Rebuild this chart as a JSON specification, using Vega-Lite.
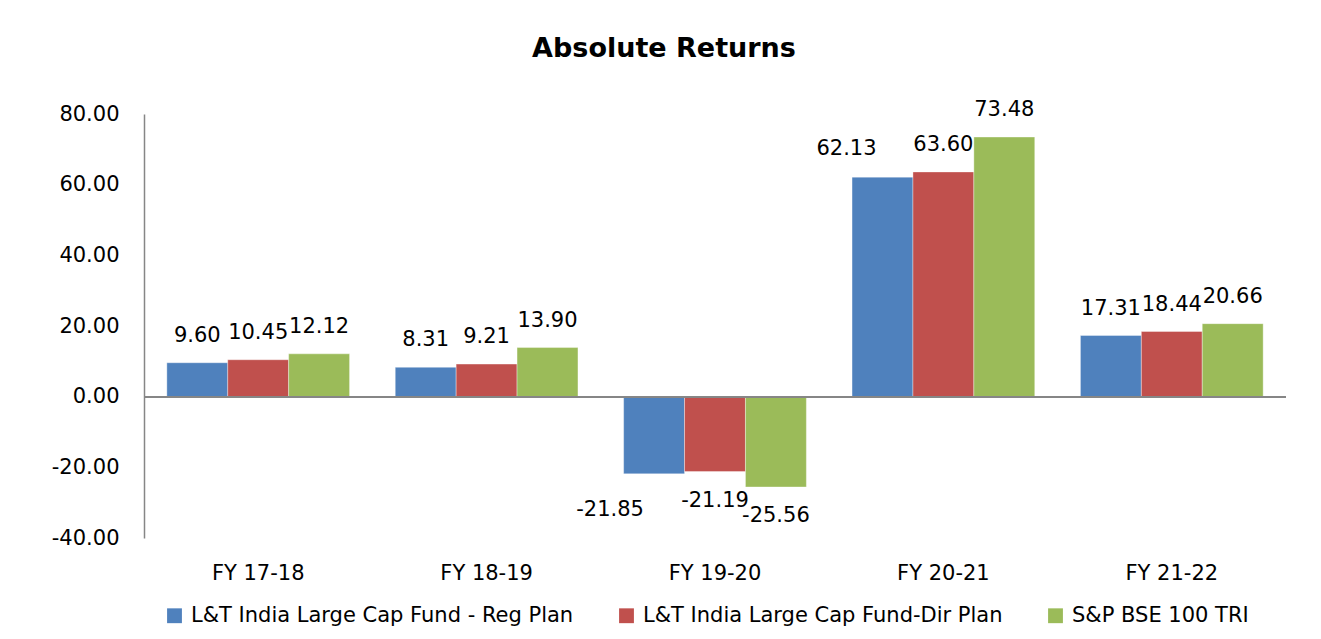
{
  "$schema": "https://vega.github.io/schema/vega-lite/v6.json",
  "autosize": {"type": "none"},
  "width": 1142,
  "height": 424,
  "padding": {"left": 144, "top": 114, "right": 35, "bottom": 101},
  "background": "white",
  "config": {
    "view": {"stroke": null},
    "locale": {
      "number": {"decimal": ".", "thousands": ",", "grouping": [3], "currency": ["$", ""], "minus": "-"}
    }
  },
  "title": {
    "text": "Absolute Returns",
    "anchor": "middle",
    "dx": -51,
    "offset": 36,
    "font": "DejaVu Sans",
    "fontSize": 27,
    "fontWeight": "bold",
    "color": "#000000"
  },
  "data": {
    "values": [
      {"year": "FY 17-18", "series": "L&T India Large Cap Fund - Reg Plan", "value": 9.60},
      {"year": "FY 17-18", "series": "L&T India Large Cap Fund-Dir Plan", "value": 10.45},
      {"year": "FY 17-18", "series": "S&P BSE 100 TRI", "value": 12.12},
      {"year": "FY 18-19", "series": "L&T India Large Cap Fund - Reg Plan", "value": 8.31},
      {"year": "FY 18-19", "series": "L&T India Large Cap Fund-Dir Plan", "value": 9.21},
      {"year": "FY 18-19", "series": "S&P BSE 100 TRI", "value": 13.90},
      {"year": "FY 19-20", "series": "L&T India Large Cap Fund - Reg Plan", "value": -21.85},
      {"year": "FY 19-20", "series": "L&T India Large Cap Fund-Dir Plan", "value": -21.19},
      {"year": "FY 19-20", "series": "S&P BSE 100 TRI", "value": -25.56},
      {"year": "FY 20-21", "series": "L&T India Large Cap Fund - Reg Plan", "value": 62.13},
      {"year": "FY 20-21", "series": "L&T India Large Cap Fund-Dir Plan", "value": 63.60},
      {"year": "FY 20-21", "series": "S&P BSE 100 TRI", "value": 73.48},
      {"year": "FY 21-22", "series": "L&T India Large Cap Fund - Reg Plan", "value": 17.31},
      {"year": "FY 21-22", "series": "L&T India Large Cap Fund-Dir Plan", "value": 18.44},
      {"year": "FY 21-22", "series": "S&P BSE 100 TRI", "value": 20.66}
    ]
  },
  "encoding": {
    "x": {
      "field": "year",
      "type": "nominal",
      "sort": null,
      "scale": {"paddingInner": 0.2, "paddingOuter": 0.1},
      "axis": {
        "title": null,
        "orient": "bottom",
        "domain": false,
        "ticks": false,
        "labelAngle": 0,
        "labelPadding": 24,
        "labelFont": "DejaVu Sans",
        "labelFontSize": 21,
        "labelColor": "#000000"
      }
    },
    "xOffset": {
      "field": "series",
      "type": "nominal",
      "sort": null,
      "scale": {"paddingInner": 0, "paddingOuter": 0}
    },
    "y": {
      "field": "value",
      "type": "quantitative",
      "scale": {"domain": [-40, 80], "nice": false, "zero": false},
      "axis": {
        "title": null,
        "values": [-40, -20, 0, 20, 40, 60, 80],
        "format": ".2f",
        "grid": false,
        "ticks": false,
        "domain": true,
        "domainColor": "#868686",
        "domainWidth": 1.5,
        "labelPadding": 25,
        "labelFont": "DejaVu Sans",
        "labelFontSize": 21,
        "labelColor": "#000000"
      }
    }
  },
  "layer": [
    {
      "mark": {"type": "bar", "stroke": "#ffffff", "strokeWidth": 0.6, "strokeOpacity": 0.6},
      "encoding": {
        "color": {
          "field": "series",
          "type": "nominal",
          "sort": null,
          "scale": {
            "domain": ["L&T India Large Cap Fund - Reg Plan", "L&T India Large Cap Fund-Dir Plan", "S&P BSE 100 TRI"],
            "range": ["#4F81BD", "#C0504D", "#9BBB59"]
          },
          "legend": {
            "title": null,
            "orient": "none",
            "direction": "horizontal",
            "legendX": 20,
            "legendY": 491,
            "symbolType": "square",
            "symbolSize": 220,
            "symbolStrokeWidth": 0,
            "symbolOpacity": 1,
            "labelFont": "DejaVu Sans",
            "labelFontSize": 21,
            "labelColor": "#000000",
            "labelLimit": 600,
            "labelOffset": 6,
            "columnPadding": 42
          }
        }
      }
    },
    {
      "mark": {"type": "rule", "color": "#868686", "strokeWidth": 1.5},
      "encoding": {"y": {"datum": 0}, "x": {"value": 0}, "x2": {"value": 1142}, "xOffset": null}
    },
    {
      "transform": [{"filter": "datum.value >= 0 && !(datum.year == 'FY 20-21' && datum.series == 'L&T India Large Cap Fund - Reg Plan')"}],
      "mark": {"type": "text", "baseline": "middle", "align": "center", "dy": -27, "font": "DejaVu Sans", "fontSize": 21, "color": "#000000"},
      "encoding": {"text": {"field": "value", "type": "quantitative", "format": ".2f"}}
    },
    {
      "transform": [{"filter": "datum.year == 'FY 20-21' && datum.series == 'L&T India Large Cap Fund - Reg Plan'"}],
      "mark": {"type": "text", "baseline": "middle", "align": "center", "dx": -36, "dy": -28, "font": "DejaVu Sans", "fontSize": 21, "color": "#000000"},
      "encoding": {"text": {"field": "value", "type": "quantitative", "format": ".2f"}}
    },
    {
      "transform": [{"filter": "datum.value < 0 && datum.series != 'L&T India Large Cap Fund - Reg Plan'"}],
      "mark": {"type": "text", "baseline": "middle", "align": "center", "dy": 29, "font": "DejaVu Sans", "fontSize": 21, "color": "#000000"},
      "encoding": {"text": {"field": "value", "type": "quantitative", "format": ".2f"}}
    },
    {
      "transform": [{"filter": "datum.value < 0 && datum.series == 'L&T India Large Cap Fund - Reg Plan'"}],
      "mark": {"type": "text", "baseline": "middle", "align": "center", "dx": -44, "dy": 36, "font": "DejaVu Sans", "fontSize": 21, "color": "#000000"},
      "encoding": {"text": {"field": "value", "type": "quantitative", "format": ".2f"}}
    }
  ]
}
